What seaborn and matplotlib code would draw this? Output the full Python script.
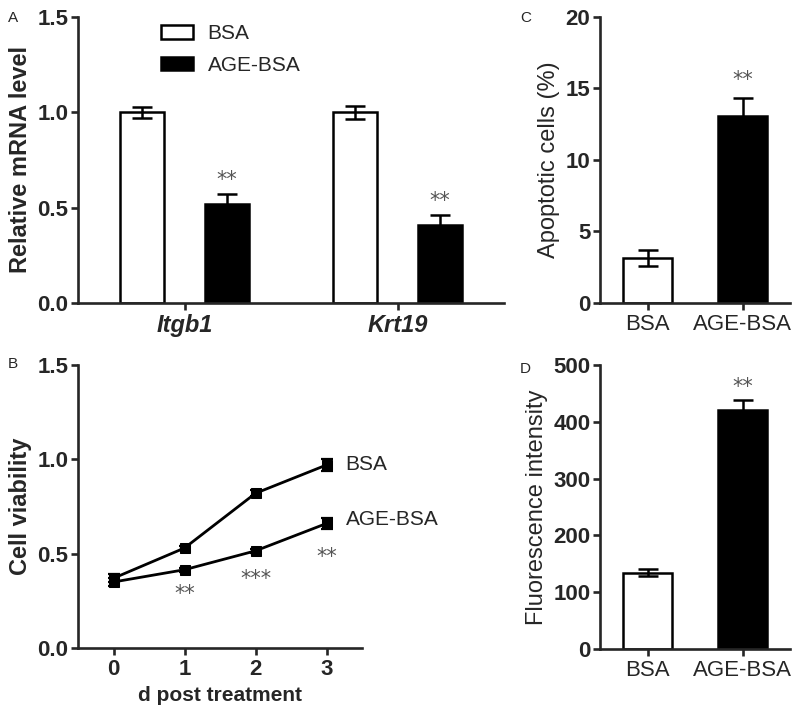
import numpy as np
import pandas as pd
import matplotlib
matplotlib.use("Agg")
import matplotlib.pyplot as plt
import seaborn as sns

# --- data ---
genes = ["Itgb1", "Krt19"]
groups = ["BSA", "AGE-BSA"]
mrna_bsa = [1.00, 1.00]
mrna_bsa_err = [0.03, 0.035]
mrna_age = [0.52, 0.41]
mrna_age_err = [0.05, 0.05]

days = [0, 1, 2, 3]
via_bsa = [0.37, 0.53, 0.82, 0.97]
via_bsa_err = [0.02, 0.01, 0.015, 0.03]
via_age = [0.35, 0.415, 0.515, 0.66]
via_age_err = [0.02, 0.01, 0.01, 0.03]
via_stars = ["", "**", "***", "**"]

apop = [3.15, 13.05]
apop_err = [0.55, 1.25]

fluor = [134, 421]
fluor_err = [6, 17]

sns.set_style("ticks")
plt.rcParams["font.family"] = ["Liberation Sans", "DejaVu Sans"]
plt.rcParams["axes.linewidth"] = 1.9
plt.rcParams["xtick.major.width"] = 1.9
plt.rcParams["ytick.major.width"] = 1.9
plt.rcParams["xtick.major.size"] = 5
plt.rcParams["ytick.major.size"] = 5
plt.rcParams["ytick.major.pad"] = 2
plt.rcParams["xtick.major.pad"] = 3

colors = {"BSA": "white", "AGE-BSA": "black"}
star_col = "#555555"
star_font = ["DejaVu Sans"]

fig = plt.figure(figsize=(8, 7.19), dpi=100)
axA = fig.add_axes([0.0975, 0.5786, 0.5325, 0.3978])
axB = fig.add_axes([0.0975, 0.0987, 0.355, 0.3937])
axC = fig.add_axes([0.75, 0.5786, 0.2375, 0.3978])
axD = fig.add_axes([0.75, 0.0974, 0.2375, 0.395])


def bar_errors(ax, vals, errs):
    # error bars on top of the bars that seaborn drew
    bars = [p for p in ax.patches if p.get_width() > 0][:len(vals)]
    for p, v, e in zip(bars, vals, errs):
        x = p.get_x() + p.get_width() / 2
        ax.errorbar(x, v, yerr=e, color="black", lw=1.8, capsize=7,
                    capthick=1.8, zorder=1)


def style_axis(ax, xsize=16):
    sns.despine(ax=ax)
    ax.tick_params(axis="y", labelsize=16)
    ax.tick_params(axis="x", labelsize=xsize)
    for t in ax.get_yticklabels():
        t.set_fontweight("bold")


# ---- A: relative mRNA ----
dfA = pd.DataFrame({
    "gene": genes * 2,
    "group": ["BSA"] * 2 + ["AGE-BSA"] * 2,
    "val": mrna_bsa + mrna_age,
})
sns.barplot(data=dfA, x="gene", y="val", hue="group", hue_order=groups,
            palette=colors, edgecolor="black", linewidth=1.8,
            width=0.8, gap=0.48, errorbar=None, ax=axA)
bars = axA.patches[:4]
# patches ordered by hue: BSA bars then AGE bars
for p, v, e in zip(bars, mrna_bsa + mrna_age, mrna_bsa_err + mrna_age_err):
    x = p.get_x() + p.get_width() / 2
    axA.errorbar(x, v, yerr=e, color="black", lw=1.8, capsize=7,
                 capthick=1.8, zorder=1)
for p, v, e in zip(bars[2:], mrna_age, mrna_age_err):
    x = p.get_x() + p.get_width() / 2
    axA.text(x, v + e + 0.025, "**", ha="center", va="bottom",
             fontsize=15, color=star_col, family=star_font)
axA.set_xlim(-0.5, 1.5)
axA.set_ylim(0, 1.5)
axA.set_yticks([0, 0.5, 1.0, 1.5])
axA.set_yticklabels(["0.0", "0.5", "1.0", "1.5"])
axA.set_xlabel("")
axA.set_ylabel("Relative mRNA level", fontsize=17, fontweight="bold",
               labelpad=4)
style_axis(axA, xsize=17)
for t in axA.get_xticklabels():
    t.set_fontweight("bold")
    t.set_fontstyle("italic")
axA.legend(title=None, frameon=False, fontsize=15, loc="upper left",
           bbox_to_anchor=(0.15, 1.04), handlelength=1.55, handleheight=0.65,
           labelspacing=0.6, handletextpad=0.7)

# ---- B: cell viability ----
dfB = pd.DataFrame({
    "day": days * 2,
    "group": ["BSA"] * 4 + ["AGE-BSA"] * 4,
    "val": via_bsa + via_age,
})
sns.lineplot(data=dfB, x="day", y="val", hue="group",
             palette={"BSA": "black", "AGE-BSA": "black"}, marker="s",
             markersize=7, markeredgecolor="black", linewidth=2,
             legend=False, ax=axB)
axB.errorbar(days, via_bsa, yerr=via_bsa_err, fmt="none", ecolor="black",
             lw=1.6, capsize=4, capthick=1.6)
axB.errorbar(days, via_age, yerr=via_age_err, fmt="none", ecolor="black",
             lw=1.6, capsize=4, capthick=1.6)
star_off = {1: -0.13, 2: -0.15, 3: -0.18}
for d, v, s in zip(days, via_age, via_stars):
    if s:
        axB.text(d, v + star_off[d], s, ha="center", va="center",
                 fontsize=15, color=star_col, family=star_font)
axB.text(3.27, via_bsa[-1], "BSA", fontsize=15, va="center")
axB.text(3.27, via_age[-1] + 0.02, "AGE-BSA", fontsize=15, va="center")
axB.set_xlim(-0.5, 3.5)
axB.set_ylim(0, 1.5)
axB.set_xticks(days)
axB.set_yticks([0, 0.5, 1.0, 1.5])
axB.set_yticklabels(["0.0", "0.5", "1.0", "1.5"])
axB.set_xlabel("d post treatment", fontsize=15, fontweight="bold")
axB.set_ylabel("Cell viability", fontsize=17, fontweight="bold", labelpad=4)
style_axis(axB)
for t in axB.get_xticklabels():
    t.set_fontweight("bold")

# ---- C: apoptotic cells ----
dfC = pd.DataFrame({"group": groups, "val": apop})
sns.barplot(data=dfC, x="group", y="val", hue="group", palette=colors,
            edgecolor="black", linewidth=1.8, width=0.52, errorbar=None,
            legend=False, ax=axC)
bar_errors(axC, apop, apop_err)
axC.text(1, apop[1] + apop_err[1] + 0.6, "**", ha="center", va="bottom",
         fontsize=15, color=star_col, family=star_font)
axC.set_xlim(-0.5, 1.5)
axC.set_ylim(0, 20)
axC.set_yticks([0, 5, 10, 15, 20])
axC.set_xlabel("")
axC.set_ylabel("Apoptotic cells (%)", fontsize=17, labelpad=4)
style_axis(axC)

# ---- D: fluorescence intensity ----
dfD = pd.DataFrame({"group": groups, "val": fluor})
sns.barplot(data=dfD, x="group", y="val", hue="group", palette=colors,
            edgecolor="black", linewidth=1.8, width=0.52, errorbar=None,
            legend=False, ax=axD)
bar_errors(axD, fluor, fluor_err)
axD.text(1, fluor[1] + fluor_err[1] + 6, "**", ha="center", va="bottom",
         fontsize=15, color=star_col, family=star_font)
axD.set_xlim(-0.5, 1.5)
axD.set_ylim(0, 500)
axD.set_yticks([0, 100, 200, 300, 400, 500])
axD.set_xlabel("")
axD.set_ylabel("Fluorescence intensity", fontsize=17, labelpad=4)
style_axis(axD)

# panel letters
for lab, x, y in [("A", 0.01, 0.985), ("B", 0.01, 0.503),
                  ("C", 0.65, 0.985), ("D", 0.65, 0.497)]:
    fig.text(x, y, lab, fontsize=11, va="top")

fig.savefig("out.png", dpi=100)
